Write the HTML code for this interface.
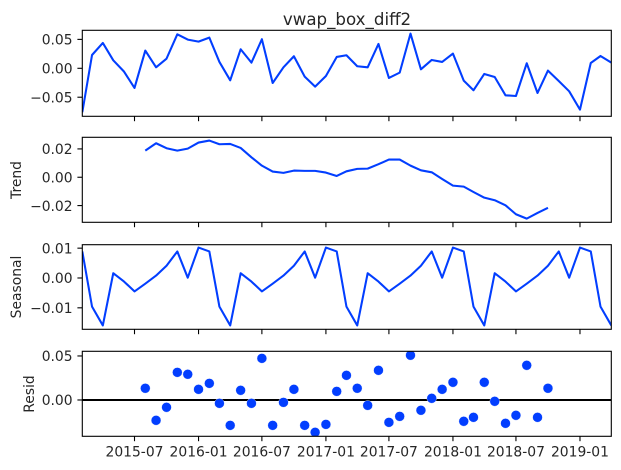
<!DOCTYPE html>
<html lang="en">
<head>
<meta charset="utf-8">
<title>vwap_box_diff2 seasonal decomposition</title>
<style>
html,body{margin:0;padding:0;background:#fff;width:621px;height:470px;overflow:hidden}
svg{display:block}
text{font-family:"DejaVu Sans",sans-serif;fill:#262626}
</style>
</head>
<body>
<svg id="chart" xmlns="http://www.w3.org/2000/svg" width="621" height="470" viewBox="0 0 621 470">
<text x="347" y="25" text-anchor="middle" font-size="16.67">vwap_box_diff2</text>
<text transform="translate(21,180) rotate(-90)" text-anchor="middle" font-size="13.89">Trend</text>
<text transform="translate(21,287) rotate(-90)" text-anchor="middle" font-size="13.89">Seasonal</text>
<text transform="translate(34,394) rotate(-90)" text-anchor="middle" font-size="13.89">Resid</text>
</svg>
<script>
const months = ["2015-02-01","2015-03-01","2015-04-01","2015-05-01","2015-06-01","2015-07-01","2015-08-01","2015-09-01","2015-10-01","2015-11-01","2015-12-01","2016-01-01","2016-02-01","2016-03-01","2016-04-01","2016-05-01","2016-06-01","2016-07-01","2016-08-01","2016-09-01","2016-10-01","2016-11-01","2016-12-01","2017-01-01","2017-02-01","2017-03-01","2017-04-01","2017-05-01","2017-06-01","2017-07-01","2017-08-01","2017-09-01","2017-10-01","2017-11-01","2017-12-01","2018-01-01","2018-02-01","2018-03-01","2018-04-01","2018-05-01","2018-06-01","2018-07-01","2018-08-01","2018-09-01","2018-10-01","2018-11-01","2018-12-01","2019-01-01","2019-02-01","2019-03-01","2019-04-01"];
const observed = [-0.076,0.023,0.0438,0.0138,-0.0058,-0.034,0.0306,0.0017,0.0167,0.0588,0.0496,0.0461,0.0531,0.011,-0.0208,0.0329,0.0098,0.0502,-0.0254,0.0017,0.0208,-0.0144,-0.0317,-0.0133,0.0196,0.0225,0.0035,0.0017,0.0421,-0.0167,-0.0075,0.06,-0.0017,0.0144,0.011,0.0254,-0.0213,-0.038,-0.0098,-0.015,-0.0467,-0.0479,0.0087,-0.0427,-0.004,-0.0219,-0.0398,-0.0715,0.0092,0.0213,0.0098];
const trend = [null,null,null,null,null,null,0.0188,0.024,0.0205,0.0188,0.0202,0.0245,0.0259,0.0233,0.0235,0.0207,0.0141,0.0082,0.004,0.0031,0.0047,0.0045,0.0045,0.0033,0.0009,0.0042,0.0059,0.0061,0.0092,0.0125,0.0125,0.0082,0.0049,0.0035,-0.0012,-0.0059,-0.0066,-0.0104,-0.0144,-0.0162,-0.0198,-0.0261,-0.0292,-0.0252,-0.0216,null,null,null,null,null,null];
const seasonal = [0.0089,-0.0096,-0.0159,0.0016,-0.0012,-0.0045,-0.0019,0.0008,0.0041,0.0089,0.0001,0.0102,0.0089,-0.0096,-0.0159,0.0016,-0.0012,-0.0045,-0.0019,0.0008,0.0041,0.0089,0.0001,0.0102,0.0089,-0.0096,-0.0159,0.0016,-0.0012,-0.0045,-0.0019,0.0008,0.0041,0.0089,0.0001,0.0102,0.0089,-0.0096,-0.0159,0.0016,-0.0012,-0.0045,-0.0019,0.0008,0.0041,0.0089,0.0001,0.0102,0.0089,-0.0096,-0.0159];
const resid = [null,null,null,null,null,null,0.0133,-0.0231,-0.0083,0.0314,0.0292,0.0121,0.0189,-0.0038,-0.0288,0.011,-0.0038,0.0473,-0.0288,-0.0027,0.0121,-0.0288,-0.0367,-0.0277,0.0098,0.028,0.0133,-0.0061,0.0337,-0.0254,-0.0186,0.0508,-0.0117,0.0019,0.0121,0.0201,-0.0242,-0.0197,0.0201,-0.0015,-0.0265,-0.0174,0.0394,-0.0197,0.0133,null,null,null,null,null,null];
const xTickDates = ["2015-07-01","2016-01-01","2016-07-01","2017-01-01","2017-07-01","2018-01-01","2018-07-01","2019-01-01"];
const xTickLabels = ["2015-07","2016-01","2016-07","2017-01","2017-07","2018-01","2018-07","2019-01"];
const observedTicks = [0.05,0,-0.05];
const trendTicks = [0.02,0,-0.02];
const seasonalTicks = [0.01,0,-0.01];
const residTicks = [0.05,0];

const NS = "http://www.w3.org/2000/svg";
const svg = document.getElementById("chart");
const LEFT = 82.3, RIGHT = 611.3, BLUE = "#023eff", INK = "#000";
const T0 = Date.parse("2015-02-01"), T1 = Date.parse("2019-04-01");
function x(d){ return LEFT + (Date.parse(d) - T0) / (T1 - T0) * (RIGHT - LEFT); }
function yScale(top, bottom, dMax, dMin){ return v => top + (dMax - v) / (dMax - dMin) * (bottom - top); }
function make(tag, attrs, parent){
  const el = document.createElementNS(NS, tag);
  for (const k in attrs) el.setAttribute(k, attrs[k]);
  (parent || svg).appendChild(el);
  return el;
}
function fmt(v, digits){
  const s = Math.abs(v).toFixed(digits);
  return (v < 0 ? "\u2212" : "") + s;
}
function linePath(values, y){
  let d = "", pen = false;
  values.forEach((v, i) => {
    if (v === null) { pen = false; return; }
    d += (pen ? "L" : "M") + x(months[i]).toFixed(2) + " " + y(v).toFixed(2);
    pen = true;
  });
  return d;
}
function axes(name, top, bottom, ticks, digits, y, showLabels){
  const g = make("g", {});
  
  
  xTickDates.forEach((d, i) => {
    const px = x(d);
    const t = make("line", {x1:px, x2:px, y1:bottom, y2:bottom + 4.9, stroke:INK, "stroke-width":1.1}, g);
    
    
    if (showLabels) {
      const l = make("text", {x:px, y:bottom + 20, "text-anchor":"middle", "font-size":13.89}, g);
      
      
      l.textContent = xTickLabels[i];
    }
  });
  ticks.forEach(v => {
    const py = y(v);
    const t = make("line", {x1:LEFT - 4.9, x2:LEFT, y1:py, y2:py, stroke:INK, "stroke-width":1.1}, g);
    
    
    const l = make("text", {x:LEFT - 9.7, y:py + 5.2, "text-anchor":"end", "font-size":13.89}, g);
    
    
    l.textContent = fmt(v, digits);
  });
}
function frame(name, top, bottom){
  const r = make("rect", {x:LEFT, y:top, width:RIGHT - LEFT, height:bottom - top, fill:"none", stroke:INK, "stroke-width":1.1});
  
  
}
function clip(id, top, bottom){
  const c = make("clipPath", {id:id});
  make("rect", {x:LEFT, y:top, width:RIGHT - LEFT, height:bottom - top}, c);
}

const yObserved = yScale(30.3, 116.3, 0.0657, -0.083);
const yTrend = yScale(137.3, 222.3, 0.0282, -0.0318);
const ySeasonal = yScale(244.7, 329.3, 0.01116, -0.0172);
const yResid = yScale(351.3, 436.3, 0.0553, -0.04125);

clip("clip-observed", 30.3, 116.3);
clip("clip-trend", 137.3, 222.3);
clip("clip-seasonal", 244.7, 329.3);
clip("clip-resid", 351.3, 436.3);

axes("observed", 30.3, 116.3, observedTicks, 2, yObserved, false);
axes("trend", 137.3, 222.3, trendTicks, 2, yTrend, false);
axes("seasonal", 244.7, 329.3, seasonalTicks, 2, ySeasonal, false);
axes("resid", 351.3, 436.3, residTicks, 2, yResid, true);

const observedLine = make("path", {d:linePath(observed, yObserved), fill:"none", stroke:BLUE, "stroke-width":2.08, "stroke-linejoin":"round", "clip-path":"url(#clip-observed)"});


const trendLine = make("path", {d:linePath(trend, yTrend), fill:"none", stroke:BLUE, "stroke-width":2.08, "stroke-linejoin":"round", "clip-path":"url(#clip-trend)"});


const seasonalLine = make("path", {d:linePath(seasonal, ySeasonal), fill:"none", stroke:BLUE, "stroke-width":2.08, "stroke-linejoin":"round", "clip-path":"url(#clip-seasonal)"});



const zeroLine = make("line", {x1:LEFT, x2:RIGHT, y1:yResid(0), y2:yResid(0), stroke:"#000", "stroke-width":2.08});



const dots = make("g", {"clip-path":"url(#clip-resid)"});


resid.forEach((v, i) => {
  if (v === null) return;
  const c = make("circle", {cx:x(months[i]), cy:yResid(v), r:4.9, fill:BLUE, stroke:"#fff", "stroke-opacity":0.7, "stroke-width":0.5}, dots);
  
  
});

frame("observed", 30.3, 116.3);
frame("trend", 137.3, 222.3);
frame("seasonal", 244.7, 329.3);
frame("resid", 351.3, 436.3);
</script>
</body>
</html>
